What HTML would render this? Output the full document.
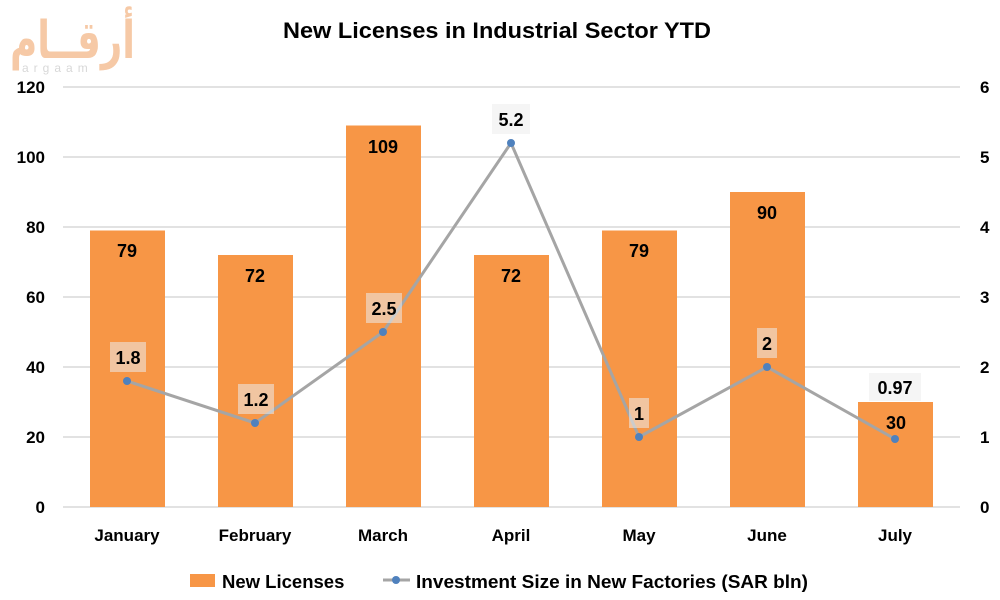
<!DOCTYPE html>
<html><head><meta charset="utf-8"><style>body{margin:0;background:#fff}svg{display:block}text{font-family:"Liberation Sans",sans-serif;font-weight:bold}</style></head><body>
<svg width="1000" height="600" viewBox="0 0 1000 600">
<text x="10" y="58" font-size="52" fill="#f6c9a6" textLength="125" lengthAdjust="spacingAndGlyphs" style="font-family:'DejaVu Sans',sans-serif">أرقــام</text>
<text x="22" y="72" font-size="12" fill="#d8d8d8" letter-spacing="5" style="font-weight:normal">argaam</text>
<text x="497" y="38" font-size="22" text-anchor="middle" fill="#000" textLength="428" lengthAdjust="spacingAndGlyphs">New Licenses in Industrial Sector YTD</text>
<g stroke="#d9d9d9" stroke-width="1.5">
<line x1="63" y1="87" x2="960" y2="87"/><line x1="63" y1="157" x2="960" y2="157"/><line x1="63" y1="227" x2="960" y2="227"/><line x1="63" y1="297" x2="960" y2="297"/><line x1="63" y1="367" x2="960" y2="367"/><line x1="63" y1="437" x2="960" y2="437"/><line x1="63" y1="507" x2="960" y2="507"/>
</g>
<g font-size="17" text-anchor="end" fill="#000">
<text x="45" y="93">120</text><text x="45" y="163">100</text><text x="45" y="233">80</text><text x="45" y="303">60</text><text x="45" y="373">40</text><text x="45" y="443">20</text><text x="45" y="513">0</text>
</g>
<g font-size="17" fill="#000">
<text x="980" y="93">6</text><text x="980" y="163">5</text><text x="980" y="233">4</text><text x="980" y="303">3</text><text x="980" y="373">2</text><text x="980" y="443">1</text><text x="980" y="513">0</text>
</g>
<g fill="#f79646">
<rect x="90" y="230.5" width="75" height="276.5"/>
<rect x="218" y="255" width="75" height="252"/>
<rect x="346" y="125.5" width="75" height="381.5"/>
<rect x="474" y="255" width="75" height="252"/>
<rect x="602" y="230.5" width="75" height="276.5"/>
<rect x="730" y="192" width="75" height="315"/>
<rect x="858" y="402" width="75" height="105"/>
</g>
<g font-size="18" text-anchor="middle" fill="#000">
<text x="127" y="257">79</text><text x="255" y="282">72</text><text x="383" y="153">109</text><text x="511" y="282">72</text><text x="639" y="257">79</text><text x="767" y="219">90</text><text x="896" y="429">30</text>
</g>
<polyline points="127,381 255,423 383,332 511,143 639,437 767,367 895,439" fill="none" stroke="#a5a5a5" stroke-width="3"/>
<g fill="#4f81bd">
<circle cx="127" cy="381" r="4"/><circle cx="255" cy="423" r="4"/><circle cx="383" cy="332" r="4"/><circle cx="511" cy="143" r="4"/><circle cx="639" cy="437" r="4"/><circle cx="767" cy="367" r="4"/><circle cx="895" cy="439" r="4"/>
</g>
<g fill="#ececec" fill-opacity="0.55">
<rect x="110" y="342" width="36" height="30"/><rect x="238" y="384" width="36" height="30"/><rect x="366" y="293" width="36" height="30"/><rect x="492" y="104" width="38" height="30"/><rect x="629" y="398" width="20" height="30"/><rect x="757" y="328" width="20" height="30"/><rect x="869" y="373" width="52" height="28"/>
</g>
<g font-size="18" text-anchor="middle" fill="#000">
<text x="128" y="364">1.8</text><text x="256" y="406">1.2</text><text x="384" y="315">2.5</text><text x="511" y="126">5.2</text><text x="639" y="420">1</text><text x="767" y="350">2</text><text x="895" y="394">0.97</text>
</g>
<g font-size="17" text-anchor="middle" fill="#000">
<text x="127" y="541">January</text><text x="255" y="541">February</text><text x="383" y="541">March</text><text x="511" y="541">April</text><text x="639" y="541">May</text><text x="767" y="541">June</text><text x="895" y="541">July</text>
</g>
<rect x="190" y="574" width="25" height="13" fill="#f79646"/>
<text x="222" y="588" font-size="18.5" fill="#000">New Licenses</text>
<line x1="383" y1="580" x2="410" y2="580" stroke="#a5a5a5" stroke-width="3"/>
<circle cx="396" cy="580" r="4" fill="#4f81bd"/>
<text x="416" y="588" font-size="18.5" fill="#000" textLength="392" lengthAdjust="spacingAndGlyphs">Investment Size in New Factories (SAR bln)</text>
</svg>
</body></html>
